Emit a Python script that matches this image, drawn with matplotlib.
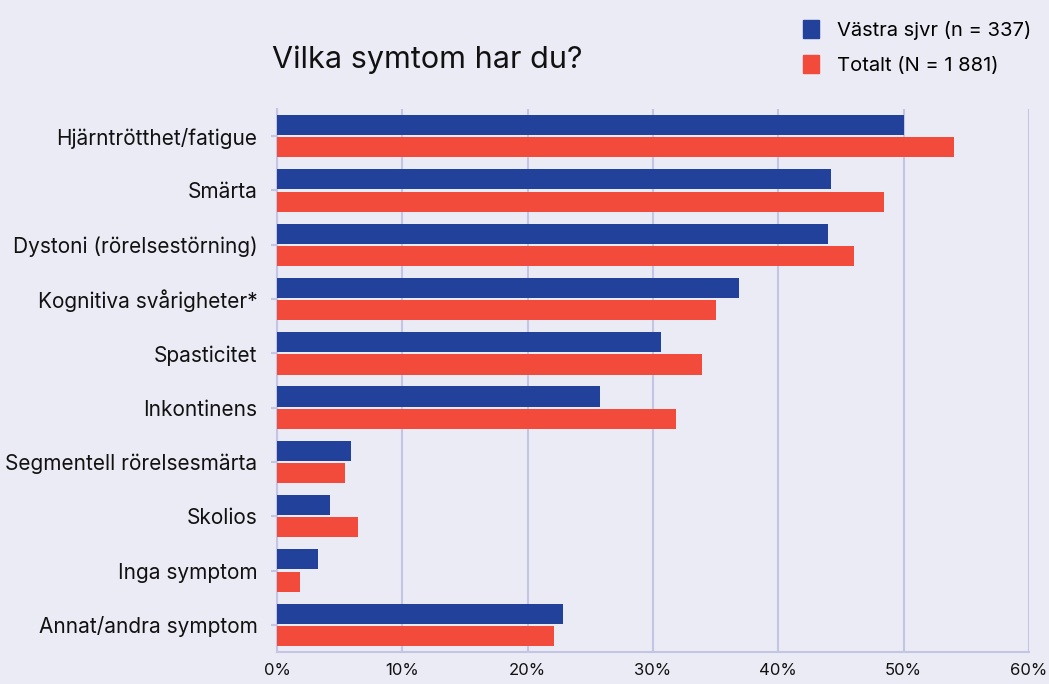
import matplotlib.pyplot as plt
from matplotlib.ticker import PercentFormatter
from matplotlib.patches import Patch
import numpy as np

plt.rcParams['font.family'] = ['Inter', 'DejaVu Sans']

categories = ['Hjärntrötthet/fatigue', 'Smärta', 'Dystoni (rörelsestörning)',
              'Kognitiva svårigheter*', 'Spasticitet', 'Inkontinens',
              'Segmentell rörelsesmärta', 'Skolios', 'Inga symptom',
              'Annat/andra symptom']
vastra = [50.0, 44.2, 44.0, 36.9, 30.6, 25.8, 5.9, 4.2, 3.3, 22.8]
totalt = [54.0, 48.4, 46.0, 35.0, 33.9, 31.8, 5.4, 6.5, 1.8, 22.1]
series_labels = ['Västra sjvr (n = 337)', 'Totalt (N = 1 881)']
xticks = [0, 10, 20, 30, 40, 50, 60]

bg = '#ebebf5'
grid_col = '#c4c4e4'
blue = '#22419a'
red = '#f24a3b'

fig = plt.figure(figsize=(10.49, 6.84), dpi=100, facecolor=bg)
ax = fig.add_axes([277 / 1049, 1 - 652 / 684, (1029 - 277) / 1049, (652 - 109) / 684])
ax.set_facecolor(bg)

y = np.arange(len(categories))
h = 0.37
ax.barh(y - h / 2 - 0.02, vastra, height=h, color=blue, zorder=3)
ax.barh(y + h / 2 + 0.02, totalt, height=h, color=red, zorder=3)

ax.set_xlim(0, 60)
ax.set_ylim(len(categories) - 0.5, -0.5)
ax.set_xticks(xticks)
ax.xaxis.set_major_formatter(PercentFormatter(decimals=0))
ax.set_yticks(y)
ax.set_yticklabels(categories, fontsize=15, color='#111111')
ax.tick_params(axis='x', labelsize=12, colors=grid_col, labelcolor='#111111',
               length=0, pad=8)
ax.tick_params(axis='y', colors=grid_col, labelcolor='#111111', length=4,
               width=1.5, pad=10)
ax.grid(axis='x', color=grid_col, linewidth=1.5, zorder=0)
for s in ['top', 'right']:
    ax.spines[s].set_visible(False)
for s in ['left', 'bottom']:
    ax.spines[s].set_color(grid_col)
    ax.spines[s].set_linewidth(1.5)

fig.text(272 / 1049, 1 - 60 / 684, 'Vilka symtom har du?', fontsize=22,
         color='#111111', va='center', ha='left')

handles = [Patch(color=blue), Patch(color=red)]
fig.legend(handles, series_labels, loc='upper left',
           bbox_to_anchor=(785 / 1049, 1 - 2 / 684), frameon=False,
           fontsize=14.5, handlelength=0.8, handleheight=1.0, handletextpad=0.9,
           labelspacing=0.75)

fig.savefig('out.png', dpi=100, facecolor=bg)
